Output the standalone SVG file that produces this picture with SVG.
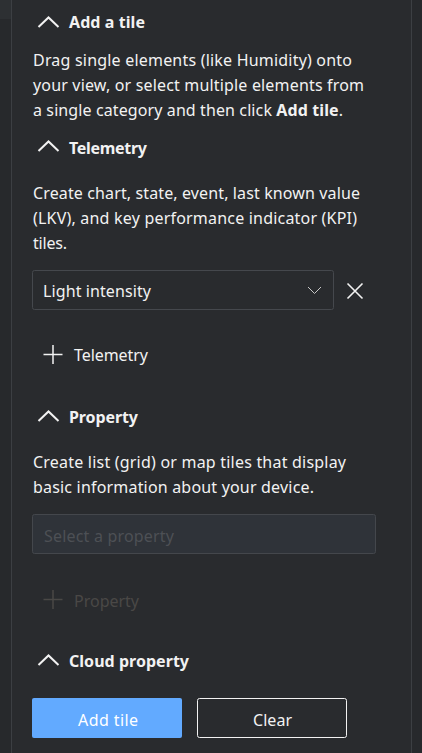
<svg xmlns="http://www.w3.org/2000/svg" width="422" height="753" viewBox="0 0 422 753">
<style>
.t{font-family:"Segoe UI","Noto Sans","Open Sans",sans-serif;font-size:16px;fill:#f2f2f2}
.h{font-family:"Segoe UI","Noto Sans","Open Sans",sans-serif;font-size:16px;font-weight:700;fill:#f2f2f2}
.chev{fill:none;stroke:#f2f2f2;stroke-width:2}
</style>
<rect x="0" y="0" width="422" height="753" fill="#292b2e"/>
<rect x="0" y="0" width="11" height="19" fill="#2d3033"/>
<rect x="0" y="19" width="11" height="734" fill="#27292c"/>
<rect x="412" y="0" width="10" height="753" fill="#27292c"/>
<line x1="11.5" y1="0" x2="11.5" y2="753" stroke="#3c3f43"/>
<line x1="411.5" y1="0" x2="411.5" y2="753" stroke="#3c3f43"/>

<g id="add-a-tile">
<polyline class="chev" points="38.5,27 48.5,17.5 58.5,27"/>
<text class="h" x="69" y="28" textLength="76" lengthAdjust="spacing">Add a tile</text>
<text class="t" x="33" y="66" textLength="319" lengthAdjust="spacing">Drag single elements (like Humidity) onto</text>
<text class="t" x="33" y="91" textLength="331" lengthAdjust="spacing">your view, or select multiple elements from</text>
<text class="t" x="33" y="116" textLength="310" lengthAdjust="spacing">a single category and then click <tspan font-weight="700">Add tile</tspan>.</text>
</g>

<g id="telemetry">
<polyline class="chev" points="38.5,151 48.5,141.5 58.5,151"/>
<text class="h" x="69" y="154" textLength="78" lengthAdjust="spacing">Telemetry</text>
<text class="t" x="33" y="199" textLength="327" lengthAdjust="spacing">Create chart, state, event, last known value</text>
<text class="t" x="33" y="224" textLength="324" lengthAdjust="spacing">(LKV), and key performance indicator (KPI)</text>
<text class="t" x="33" y="249" textLength="34" lengthAdjust="spacing">tiles.</text>
</g>

<g id="telemetry-dropdown">
<rect x="32.5" y="270.5" width="301" height="39" rx="2" fill="#292b2e" stroke="#45484d"/>
<text class="t" x="43" y="297" textLength="108" lengthAdjust="spacing">Light intensity</text>
<polyline points="308,287 314.5,293.5 321,287" fill="none" stroke="#c8c8c8" stroke-width="1"/>
</g>

<g id="remove-telemetry">
<path d="M347.5,283.5 L362.5,298.5 M362.5,283.5 L347.5,298.5" stroke="#f2f2f2" stroke-width="1.6" fill="none"/>
</g>

<g id="add-telemetry">
<path d="M53,345 V364 M43.5,354.5 H62.5" stroke="#f2f2f2" stroke-width="1.5"/>
<text class="t" x="74" y="361" textLength="74" lengthAdjust="spacing">Telemetry</text>
</g>

<g id="property">
<polyline class="chev" points="38.5,421 48.5,411.5 58.5,421"/>
<text class="h" x="69" y="423" textLength="69" lengthAdjust="spacing">Property</text>
<text class="t" x="33" y="468" textLength="313" lengthAdjust="spacing">Create list (grid) or map tiles that display</text>
<text class="t" x="33" y="493" textLength="281" lengthAdjust="spacing">basic information about your device.</text>
</g>

<g id="property-select">
<rect x="32.5" y="514.5" width="343" height="39" rx="2" fill="#2f3339" stroke="#44474c"/>
<text class="t" x="44" y="542" textLength="130" lengthAdjust="spacing" style="fill:#4d5055">Select a property</text>
</g>

<g id="add-property">
<path d="M53,590 V609 M43.5,599.5 H62.5" stroke="#4a4846" stroke-width="1.5"/>
<text class="t" x="74" y="607" textLength="65" lengthAdjust="spacing" style="fill:#4a4846">Property</text>
</g>

<g id="cloud-property">
<polyline class="chev" points="38.5,665 48.5,655.5 58.5,665"/>
<text class="h" x="69" y="667" textLength="120" lengthAdjust="spacing">Cloud property</text>
</g>

<g id="add-tile-button">
<rect x="32" y="698" width="150" height="40" rx="2" fill="#62aaff"/>
<text class="t" x="78" y="726" textLength="60" lengthAdjust="spacing" style="fill:#ffffff">Add tile</text>
</g>

<g id="clear-button">
<rect x="197.5" y="698.5" width="149" height="39" rx="2" fill="none" stroke="#f2f2f2"/>
<text class="t" x="253" y="726" textLength="39" lengthAdjust="spacing">Clear</text>
</g>
<g id="connectors"/>
</svg>
